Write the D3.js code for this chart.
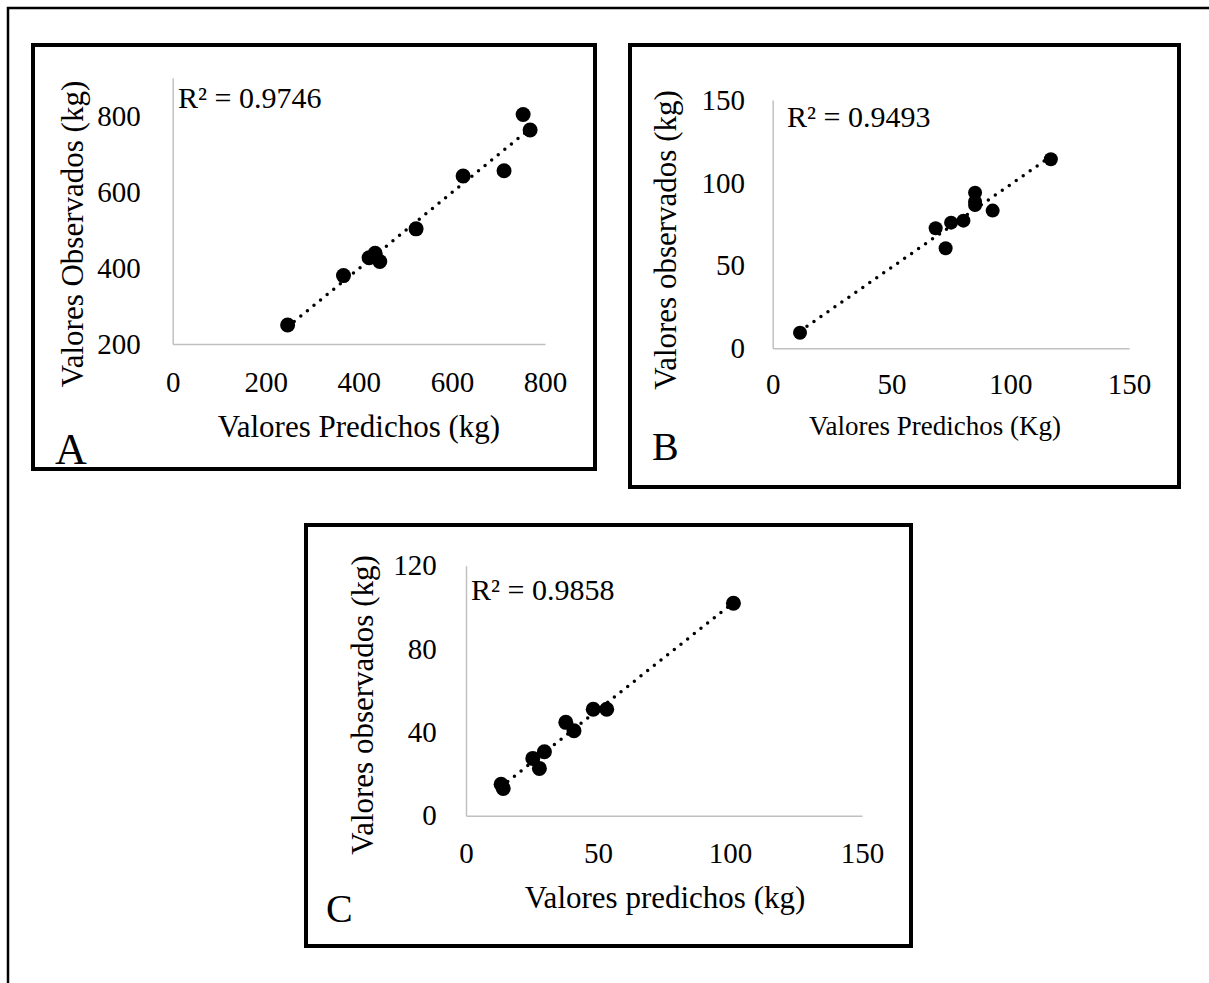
<!DOCTYPE html>
<html>
<head>
<meta charset="utf-8">
<script src="https://cdn.jsdelivr.net/npm/d3@7"></script>
<style>
  body { margin: 0; background: #fff; }
  svg { display: block; }
  text { font-family: "Liberation Serif", "Times New Roman", serif; fill: #000; }
  .axis path { stroke: #c0c0c0; stroke-width: 1.5; }
  .axis line { display: none; }
</style>
</head>
<body>
<script>
// panel A
var predA = [247, 367, 422, 435, 445, 523, 624, 712, 753, 768];
var obsA  = [250, 380, 427, 439, 417, 503, 642, 656, 804, 763];
var ticksXA = [0, 200, 400, 600, 800];
var ticksYA = [200, 400, 600, 800];
// panel B
var predB = [11.5, 68.6, 72.8, 75.1, 80.3, 85.2, 85.2, 85.2, 92.6, 117.1];
var obsB  = [9.4, 72.5, 60.4, 75.9, 77.1, 94.0, 88.6, 86.6, 83.2, 114.2];
var ticksXB = [0, 50, 100, 150];
var ticksYB = [0, 50, 100, 150];
// panel C
var predC = [13.3, 14.1, 25.3, 27.8, 29.7, 37.8, 40.9, 48.2, 53.3, 101.3];
var obsC  = [15.1, 13.1, 27.5, 22.7, 30.7, 44.8, 40.8, 51.1, 51.1, 102];
var ticksXC = [0, 50, 100, 150];
var ticksYC = [0, 40, 80, 120];

var letters = ["A", "B", "C"];
var r2Labels = ["R\u00b2 = 0.9746", "R\u00b2 = 0.9493", "R\u00b2 = 0.9858"];
var xTitles = ["Valores Predichos (kg)", "Valores Predichos (Kg)", "Valores predichos (kg)"];
var yTitles = ["Valores Observados (kg)", "Valores observados (kg)", "Valores observados (kg)"];

var width = 1209, height = 983;

var svg = d3.select("body").append("svg")
    .attr("width", width)
    .attr("height", height);

// outer frame (only top and left show)
svg.append("path")
    .attr("d", "M8," + height + "V8H" + width)
    .attr("fill", "none")
    .attr("stroke", "#000")
    .attr("stroke-width", 2.5);

// layout of each panel
var panels = [
  { box: [33, 45, 595, 469], plot: [172.7, 545, 78, 344], xDom: [0, 800], yDom: [200, 900],
    xs: predA, ys: obsA, tx: ticksXA, ty: ticksYA, padX: 27.5, padY: 32, r: 7.5,
    r2: [178, 108], xt: [359, 437, 31], yt: [83, 234], letter: [55, 464, 44] },
  { box: [630, 45, 1179, 487], plot: [772.7, 1129, 100, 348.3], xDom: [0, 150], yDom: [0, 150],
    xs: predB, ys: obsB, tx: ticksXB, ty: ticksYB, padX: 25.5, padY: 27.7, r: 7,
    r2: [787, 127], xt: [935, 435, 27], yt: [676, 240], letter: [652, 460, 40] },
  { box: [306, 525, 911, 946], plot: [466, 862, 565.7, 815.7], xDom: [0, 150], yDom: [0, 120],
    xs: predC, ys: obsC, tx: ticksXC, ty: ticksYC, padX: 26.5, padY: 29.3, r: 7.5,
    r2: [471, 600], xt: [665, 908, 31], yt: [373, 705], letter: [326, 922, 40] }
];

panels.forEach(function(p, i){
    // panel border
    svg.append("rect")
        .attr("x", p.box[0]).attr("y", p.box[1])
        .attr("width", p.box[2] - p.box[0])
        .attr("height", p.box[3] - p.box[1])
        .attr("fill", "none")
        .attr("stroke", "#000")
        .attr("stroke-width", 4);

    var x = d3.scaleLinear().domain(p.xDom).range([p.plot[0], p.plot[1]]);
    var y = d3.scaleLinear().domain(p.yDom).range([p.plot[3], p.plot[2]]);

    svg.append("g")
        .attr("class", "axis")
        .attr("transform", "translate(0," + p.plot[3] + ")")
        .call(d3.axisBottom(x).tickValues(p.tx).tickSize(0).tickSizeOuter(0).tickPadding(p.padX));
    svg.append("g")
        .attr("class", "axis")
        .attr("transform", "translate(" + p.plot[0] + ",0)")
        .call(d3.axisLeft(y).tickValues(p.ty).tickSize(0).tickSizeOuter(0).tickPadding(p.padY));
    svg.selectAll(".axis text")
        .attr("font-size", 29)
        .style("font-family", "'Liberation Serif', 'Times New Roman', serif");

    // least squares trend line over the data range
    var mx = d3.mean(p.xs), my = d3.mean(p.ys);
    var sxy = d3.sum(p.xs, function(v, k){ return (v - mx) * (p.ys[k] - my); });
    var sxx = d3.sum(p.xs, function(v){ return (v - mx) * (v - mx); });
    var slope = sxy / sxx, icpt = my - slope * mx;
    var ext = d3.extent(p.xs);
    svg.append("line")
        .attr("x1", x(ext[0])).attr("y1", y(icpt + slope * ext[0]))
        .attr("x2", x(ext[1])).attr("y2", y(icpt + slope * ext[1]))
        .attr("stroke", "#000")
        .attr("stroke-width", 3.5)
        .attr("stroke-linecap", "round")
        .attr("stroke-dasharray", "0 8.5");

    svg.append("g").selectAll("circle")
        .data(p.xs)
        .enter()
        .append("circle")
        .attr("cx", function(d){ return x(d); })
        .attr("cy", function(d, k){ return y(p.ys[k]); })
        .attr("r", p.r)
        .attr("fill", "#000");

    svg.append("text")
        .attr("x", p.r2[0]).attr("y", p.r2[1])
        .attr("font-size", 30)
        .text(r2Labels[i]);

    svg.append("text")
        .attr("x", p.xt[0]).attr("y", p.xt[1])
        .attr("font-size", p.xt[2])
        .attr("text-anchor", "middle")
        .text(xTitles[i]);

    svg.append("text")
        .attr("transform", "translate(" + p.yt[0] + "," + p.yt[1] + ") rotate(-90)")
        .attr("font-size", 31)
        .attr("text-anchor", "middle")
        .text(yTitles[i]);

    svg.append("text")
        .attr("x", p.letter[0]).attr("y", p.letter[1])
        .attr("font-size", p.letter[2])
        .text(letters[i]);
});
</script>
</body>
</html>
